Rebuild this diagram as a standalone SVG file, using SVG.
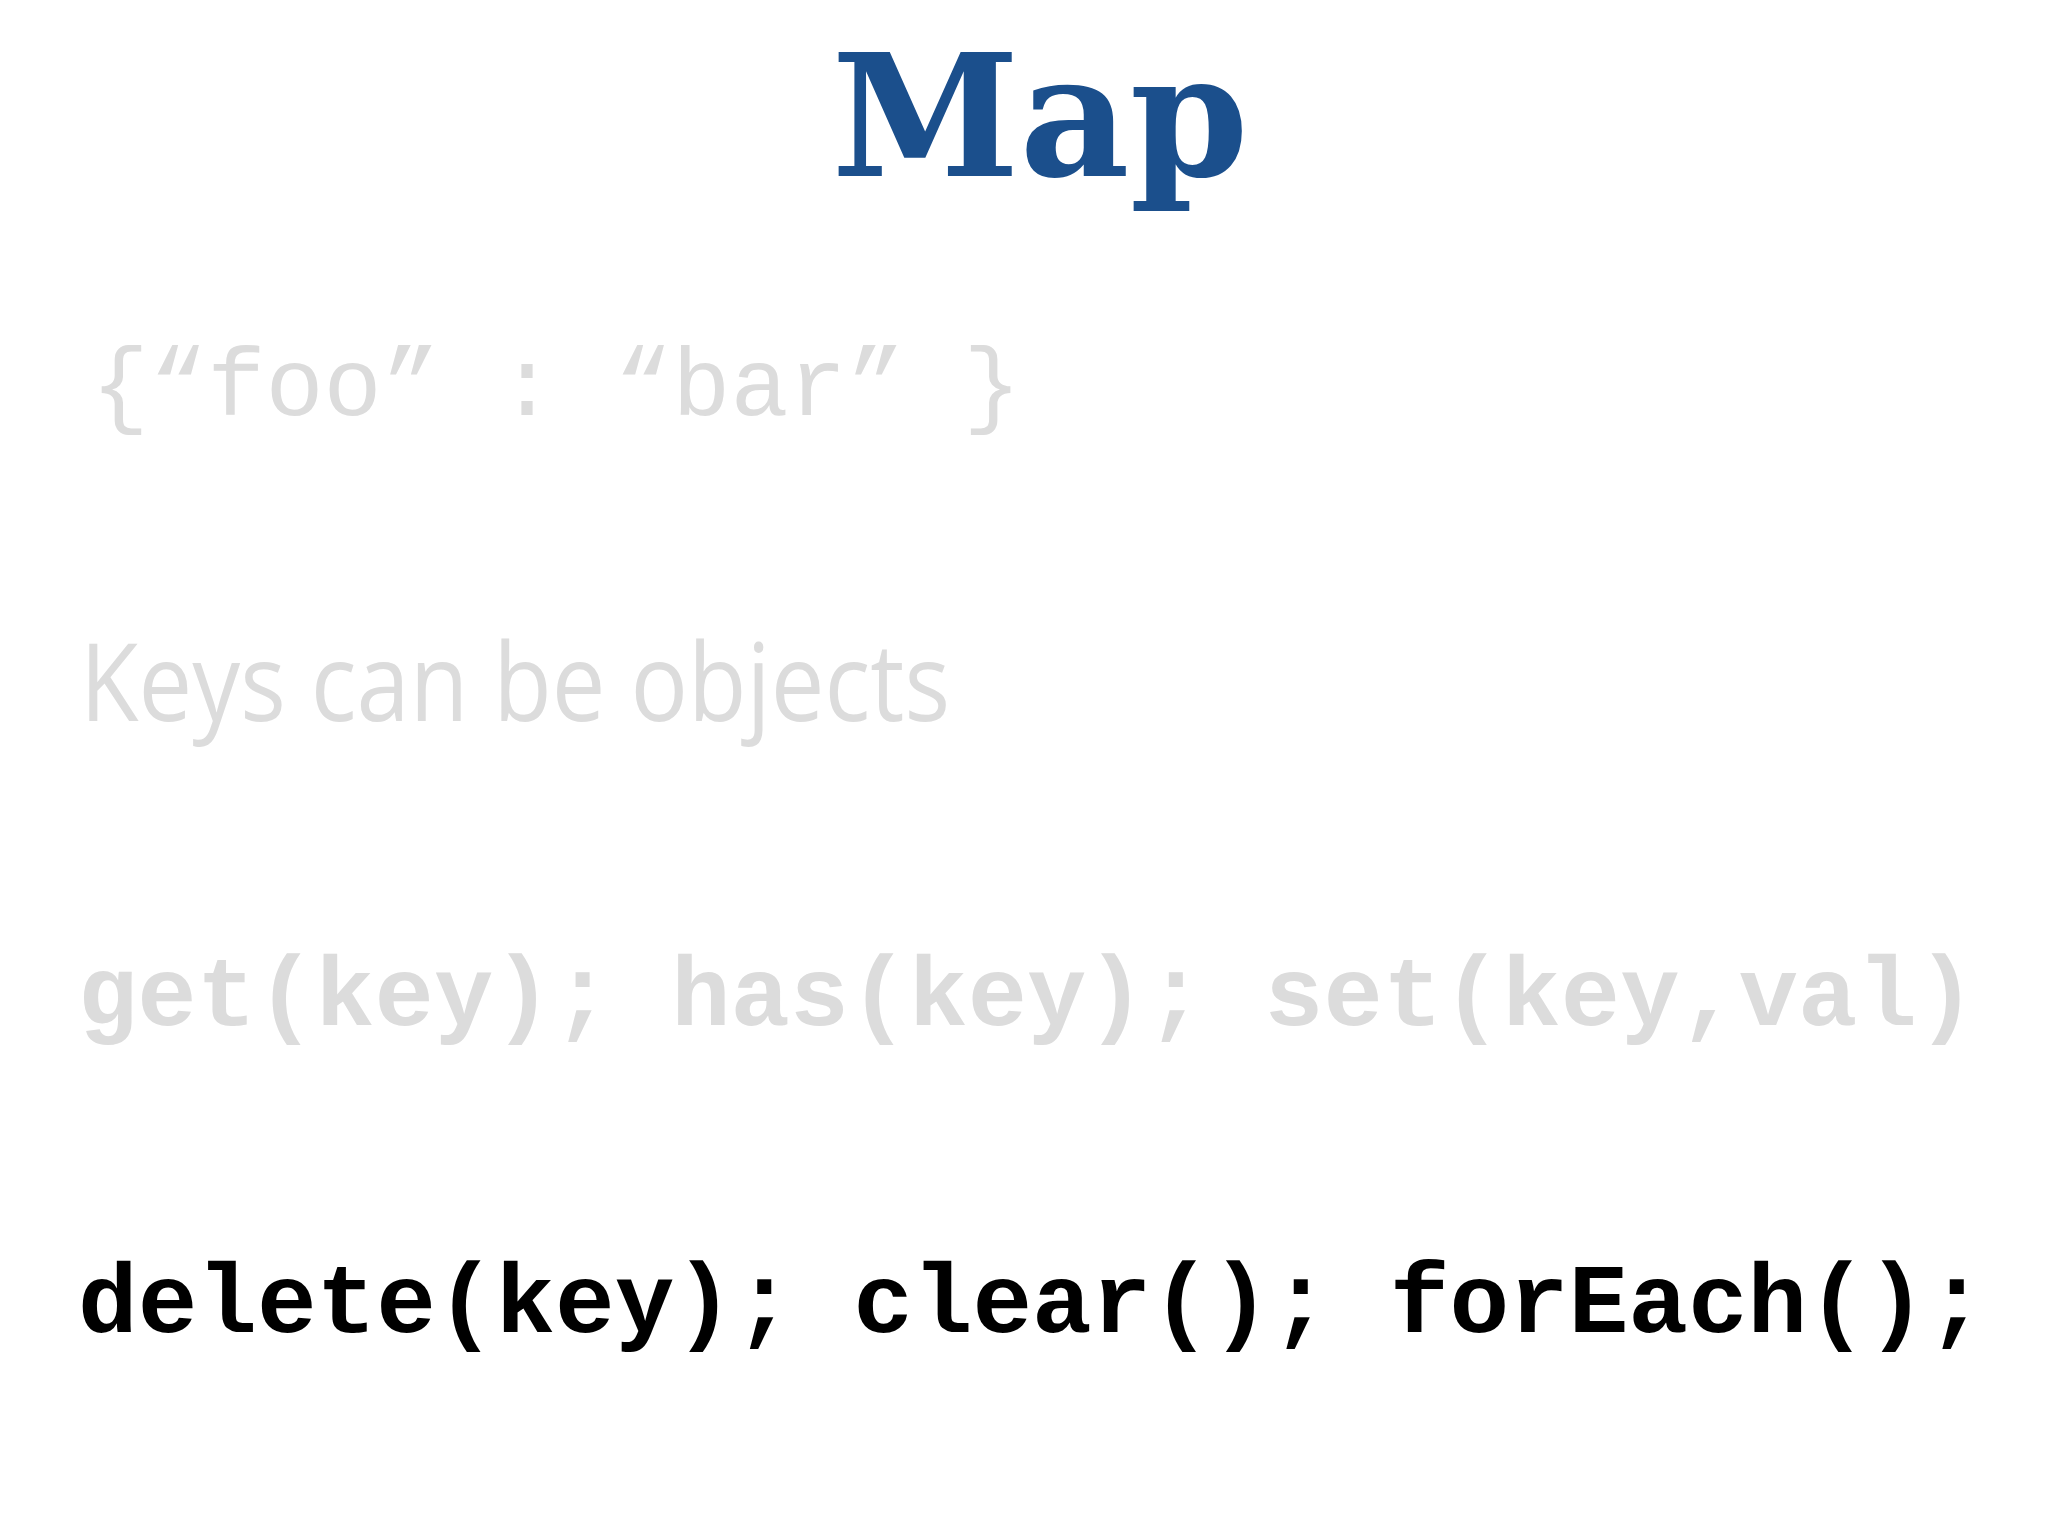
<svg xmlns="http://www.w3.org/2000/svg" width="2048" height="1536" viewBox="0 0 2048 1536">
<style>
.mono{font-family:"Liberation Mono","Courier New",monospace;}
.grey{fill:#dcdcdc;}
</style>
<rect width="2048" height="1536" fill="#ffffff"/>
<g id="title"><text x="1040" y="176" text-anchor="middle" font-family="'DejaVu Serif',serif" font-weight="bold" font-size="170" fill="#1b4f8c">Map</text></g>
<g id="line1"><text class="mono grey" x="91" y="415" font-size="96" textLength="930" lengthAdjust="spacingAndGlyphs">{“foo” : “bar” }</text></g>
<g id="line2"><text class="grey" x="80" y="721" font-family="'Open Sans','Liberation Sans',sans-serif" font-size="108" textLength="870" lengthAdjust="spacingAndGlyphs">Keys can be objects</text></g>
<g id="line3"><text class="mono grey" x="78" y="1025" font-size="99" font-weight="bold" textLength="1898" lengthAdjust="spacingAndGlyphs">get(key); has(key); set(key,val)</text></g>
<g id="line4"><text class="mono" x="78" y="1332" font-size="99" font-weight="bold" fill="#000" textLength="1908" lengthAdjust="spacingAndGlyphs">delete(key); clear(); forEach();</text></g>
<g id="connectors"/>
</svg>
